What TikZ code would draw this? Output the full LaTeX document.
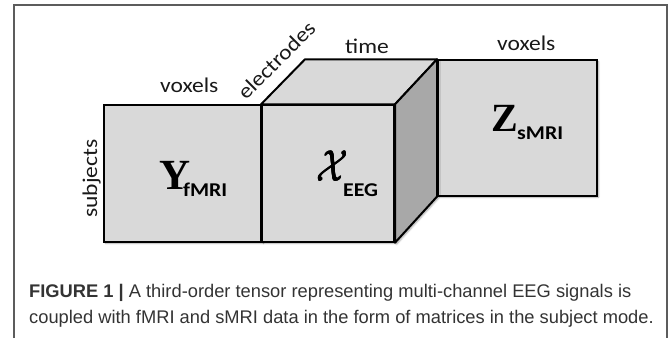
\documentclass[tikz,border=0pt]{standalone}
\usepackage{fontspec}
\usepackage{graphicx}
\usetikzlibrary{shadows.blur}
\newfontfamily\labfont[FakeStretch=1.12]{Carlito}
\newfontfamily\serfont{Liberation Serif}
\newfontfamily\capfont{Liberation Sans}
\definecolor{facegray}{HTML}{D9D9D9}
\definecolor{sidegray}{HTML}{A8A8A8}
\definecolor{framegray}{HTML}{5C5C5C}
\definecolor{captext}{HTML}{333333}
\newcommand{\heavyscript}{%
  \tikz[baseline=0pt]{%
    \foreach \dx/\dy in {0/0, 0.7/0, 0/0.5, 0.7/0.5}
      \node[inner sep=0pt, anchor=base west] at (\dx pt,\dy pt) {\scalebox{3.7}[4.35]{$\mathcal{X}$}};}}
\tikzset{
  softshadow/.style={blur shadow={shadow xshift=1.5pt, shadow yshift=-1.5pt, shadow blur steps=6, shadow opacity=35}},
  matbox/.style={draw=black, line width=2pt, fill=facegray, rectangle, inner sep=0pt, anchor=north west, softshadow},
  facefill/.style={draw=black, line width=2pt, line join=round},
  axislabel/.style={inner sep=0pt, font=\labfont\fontsize{21}{22}\selectfont, text=black!90},
  subtag/.style={inner sep=0pt, anchor=base west, font=\labfont\bfseries\fontsize{19.5}{20}\selectfont},
  bigsym/.style={inner sep=0pt, anchor=base west},
  captionline/.style={inner sep=0pt, anchor=base west, text=captext, font=\capfont\fontsize{18.3}{20}\selectfont}
}
\begin{document}
\begin{tikzpicture}[x=1pt, y=-1pt]
\useasboundingbox (0,0) rectangle (669,338);
% outer frame of the figure panel
\draw[framegray, line width=1.2pt] (14,338) -- (14,5) -- (667,5) -- (667,338);

% the two matrices and the front face of the tensor
\node[matbox, minimum width=158pt, minimum height=136.4pt] (Y) at (103,104.3) {};
\node[matbox, minimum width=159pt, minimum height=135.3pt] (Z) at (437,59.3) {};
\node[matbox, minimum width=132pt, minimum height=136.4pt] (X) at (261,104.3) {};
\coordinate (backtl) at (305,59.3);

% top and side faces of the tensor
\filldraw[facefill, fill=facegray] (X.north west) -- (backtl) -- (Z.north west) -- (X.north east) -- cycle;
\filldraw[facefill, fill=sidegray, softshadow] (X.north east) -- (Z.north west) -- (Z.south west) -- (X.south east) -- cycle;
\draw[line width=2pt] (Z.north west) -- (Z.south west);
\draw[line width=2pt] (X.north west) -- (X.south west);

% symbols inside the blocks
\node[bigsym, font=\serfont\bfseries\fontsize{43}{43}\selectfont] (ysym) at (159,189.3) {Y};
\node[subtag] (ysub) at (183,196) {fMRI};
\node[bigsym] (xsym) at (316,181) {\heavyscript};
\node[subtag] (xsub) at (343,196) {EEG};
\node[bigsym, font=\serfont\bfseries\fontsize{40}{40}\selectfont] (zsym) at (491,131.7) {Z};
\node[subtag] (zsub) at (517,139) {sMRI};

% mode labels
\node[axislabel, anchor=base west] (vox1) at (160,92.7) {voxels};
\node[axislabel, anchor=base west] (vox2) at (497,50.5) {voxels};
\node[axislabel, anchor=base west] (tim) at (345,53) {time};
\node[axislabel, anchor=base west, rotate=45] (elec) at (246,101) {electrodes};
\node[axislabel, anchor=base west, rotate=90] (subj) at (97,218) {subjects};

% caption
\node[captionline] (cap1) at (29,297.3) {\textbf{FIGURE 1 |} A third-order tensor representing multi-channel EEG signals is};
\node[captionline] (cap2) at (29,323.3) {coupled with fMRI and sMRI data in the form of matrices in the subject mode.};
\end{tikzpicture}
\end{document}
